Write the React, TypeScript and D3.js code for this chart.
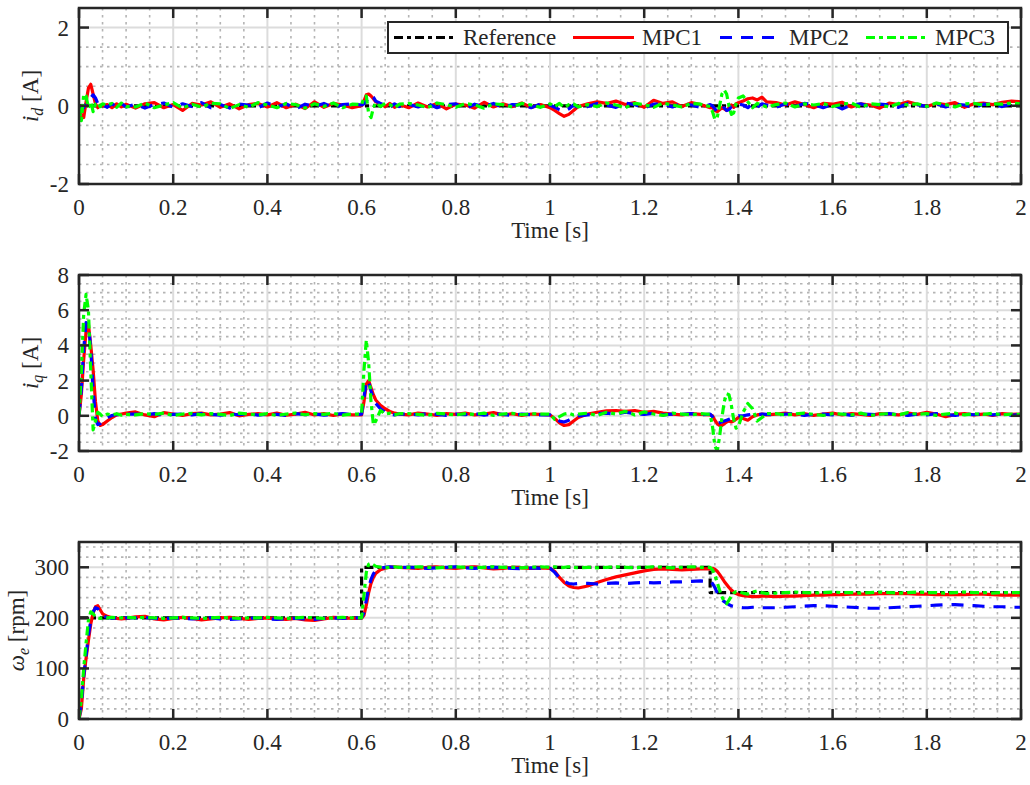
import React, { useEffect, useRef } from "react";
import * as d3 from "d3";

// shared sample times [s]
const TIME = [
  0, 0.005, 0.01, 0.015, 0.02, 0.025, 0.03, 0.035, 0.04, 0.045, 0.05,
  0.06, 0.07, 0.08, 0.09, 0.1,
  0.12, 0.14, 0.16, 0.18, 0.2, 0.22, 0.24, 0.26, 0.28, 0.3, 0.32, 0.34, 0.36, 0.38, 0.4, 0.42, 0.44, 0.46, 0.48, 0.5, 0.52, 0.54, 0.56, 0.58,
  0.6, 0.605, 0.61, 0.615, 0.62, 0.625, 0.63,
  0.64, 0.65, 0.66, 0.67, 0.68,
  0.7, 0.72, 0.74, 0.76, 0.78, 0.8, 0.82, 0.84, 0.86, 0.88, 0.9, 0.92, 0.94, 0.96, 0.98,
  1.0, 1.01, 1.02, 1.03, 1.04, 1.05, 1.06,
  1.08, 1.1, 1.12, 1.14, 1.16, 1.18, 1.2, 1.22, 1.24, 1.26, 1.28, 1.3, 1.32, 1.34,
  1.345, 1.35, 1.355, 1.36, 1.365, 1.37, 1.375, 1.38, 1.385, 1.39, 1.395, 1.4,
  1.41, 1.42, 1.43, 1.44, 1.45, 1.46,
  1.48, 1.5, 1.52, 1.54, 1.56, 1.58, 1.6, 1.62, 1.64, 1.66, 1.68, 1.7, 1.72, 1.74, 1.76, 1.78, 1.8, 1.82, 1.84, 1.86, 1.88, 1.9, 1.92, 1.94, 1.96, 1.98, 2.0,
];

// d-axis current [A]
const ID_REF_T = [0, 2];
const ID_REF = [0, 0];
const ID_MPC1 = [
  0, -0.25, -0.3, 0.1, 0.45, 0.55, 0.3, 0.05, -0.05, 0.02, 0,
  0.03, -0.05, 0.05, -0.03, 0.04,
  -0.06, 0.05, 0.08, -0.05, 0.03, -0.12, 0.06, 0.02, 0.1, -0.04, 0.05, -0.08, 0.03, 0.06, -0.03, 0.08, -0.05, 0.04, -0.07, 0.1, -0.04, 0.06, 0.02, -0.05,
  0, 0.12, 0.28, 0.3, 0.25, 0.18, 0.1,
  0.05, -0.02, 0.06, -0.04, 0.03,
  -0.05, 0.07, -0.03, 0.06, -0.08, 0.04, 0.02, -0.06, 0.09, -0.03, 0.05, -0.02, 0.07, -0.04, 0.03,
  -0.05, -0.12, -0.2, -0.27, -0.22, -0.12, -0.02,
  0.05, 0.1, 0.06, 0.12, 0.03, 0.08, -0.04, 0.14, 0.06, 0.1, -0.02, 0.08, 0.03, -0.05,
  -0.05, -0.12, -0.15, -0.1, -0.05, -0.08, -0.12, -0.05, 0.02, -0.04, 0.05, 0.08,
  0.12, 0.18, 0.2, 0.15, 0.22, 0.1,
  0.08, 0.02, 0.1, 0.03, -0.05, 0.06, 0.04, 0.09, -0.03, 0.05, 0.02, -0.06, 0.07, 0.03, 0.1, 0.04, -0.02, 0.06, 0.03, 0.08, -0.04, 0.05, 0.07, 0.03, 0.09, 0.12, 0.1,
];
const ID_MPC2 = [
  0, -0.1, -0.05, 0.05, 0.1, 0.2, 0.28, 0.2, 0.05, 0.08, 0.02,
  -0.04, 0.05, -0.02, 0.06, -0.03,
  0.04, -0.06, 0.03, 0.07, -0.04, 0.05, -0.02, 0.08, -0.05, 0.03, -0.06, 0.04, 0.02, -0.05, 0.07, -0.03, 0.05, -0.08, 0.04, -0.02, 0.06, -0.04, 0.03, 0.05,
  0.02, 0.05, 0.12, 0.22, 0.28, 0.22, 0.12,
  0.06, 0.02, -0.04, 0.05, -0.02,
  0.04, -0.03, 0.06, -0.05, 0.03, 0.05, -0.07, 0.04, -0.02, 0.06, -0.04, 0.03, 0.02, -0.05, 0.05,
  0.02, -0.04, -0.1, -0.14, -0.08, 0.02, -0.05,
  -0.02, 0.06, 0.02, -0.04, 0.07, 0.03, -0.06, 0.04, 0.05, -0.03, 0.06, 0.02, -0.04, 0.03,
  0, -0.08, -0.15, -0.18, -0.1, -0.05, -0.12, -0.1, -0.02, 0, 0.04, 0.05,
  0.02, -0.05, 0.06, -0.03, 0.05, 0.02,
  -0.04, 0.05, -0.02, 0.06, 0.03, -0.05, 0.04, -0.08, 0.02, 0.05, -0.03, 0.04, 0.02, -0.04, 0.06, 0.03, -0.02, 0.05, -0.03, 0.04, 0.02, -0.05, 0.04, 0.03, -0.02, 0.05, 0.04,
];
const ID_MPC3 = [
  -0.05, -0.38, 0.3, 0.25, -0.05, 0.1, -0.15, 0.05, 0.08, -0.02, 0.05,
  0.02, 0.06, -0.04, 0.07, -0.02,
  -0.03, 0.07, -0.05, 0.02, 0.08, -0.06, 0.04, -0.03, 0.06, 0.05, -0.07, 0.03, -0.04, 0.08, 0.02, -0.05, 0.06, 0.03, -0.06, 0.05, -0.02, 0.07, -0.05, 0.04,
  0.03, 0.2, 0.25, -0.2, -0.3, -0.05, 0.08,
  -0.02, 0.06, 0.03, -0.05, 0.04,
  0.06, 0.02, -0.05, 0.07, 0.03, -0.04, 0.06, 0.02, -0.06, 0.05, 0.03, -0.03, 0.06, 0.02, -0.04,
  0.05, -0.02, 0.06, -0.04, 0.03, 0.05, -0.03,
  0.03, -0.02, 0.07, 0.02, -0.05, 0.06, 0.03, -0.04, 0.07, 0.02, -0.03, 0.06, 0.04, -0.02,
  -0.15, -0.35, -0.3, 0, 0.3, 0.4, 0.3, 0, -0.22, -0.18, 0.05, 0.2,
  0.25, 0.1, -0.05, 0.06, 0.02, -0.03,
  0.03, 0.07, -0.03, 0.05, 0.02, 0.06, -0.02, 0.04, 0.07, -0.04, 0.05, 0.03, -0.03, 0.06, 0.02, 0.05, -0.02, 0.07, 0.03, -0.03, 0.05, 0.06, 0.02, 0.05, 0.04, 0.07, 0.05,
];

// q-axis current [A]
const IQ_MPC1 = [
  0, 1.2, 3.2, 4.8, 5.2, 4.0, 2.6, 0.8, -0.3, -0.55, -0.5,
  -0.3, -0.1, 0.05, 0.1, 0.15,
  0.22, 0.05, -0.05, 0.18, 0.1, 0.02, 0.12, 0.15, 0.05, 0.1, 0.18, 0, 0.08, 0.12, 0.05, 0.15, 0.03, 0.1, 0.2, 0.05, 0.12, 0.02, 0.1, 0.05,
  0.05, 0.8, 1.8, 2.0, 1.6, 1.2, 0.9,
  0.6, 0.4, 0.25, 0.15, 0.1,
  0.05, 0.15, 0.1, 0.02, 0.12, 0.08, 0.15, 0.05, 0.1, 0.18, 0.05, 0.12, 0.02, 0.1, 0.08,
  0.05, -0.15, -0.4, -0.55, -0.5, -0.3, -0.1,
  0.1, 0.2, 0.28, 0.3, 0.25, 0.3, 0.2, 0.25, 0.15, 0.1, 0.05, 0.12, 0.08, 0.05,
  0, -0.25, -0.45, -0.55, -0.55, -0.45, -0.35, -0.3, -0.35, -0.3, -0.2, -0.1,
  -0.15, -0.25, -0.05, 0.05, 0.1, 0.05,
  0.1, 0.15, 0.05, 0.12, 0.02, 0.1, 0.15, 0.05, 0.12, 0.08, 0.02, 0.12, 0.1, 0.05, 0.15, 0.08, 0.2, 0.1, -0.05, 0.08, 0.12, 0.05, 0.1, 0.02, 0.12, 0.08, 0.1,
];
const IQ_MPC2 = [
  0, 1.5, 3.8, 5.3, 5.2, 3.8, 1.5, -0.2, -0.5, -0.45, -0.3,
  -0.1, 0.02, 0.08, 0.05, 0.1,
  0.1, 0.05, 0.12, 0.02, 0.08, 0.1, 0.05, 0.12, 0.08, 0.03, 0.1, 0.06, 0.12, 0.04, 0.1, 0.08, 0.02, 0.12, 0.06, 0.1, 0.04, 0.08, 0.12, 0.06,
  0.1, 1.0, 2.0, 1.9, 1.4, 1.0, 0.7,
  0.4, 0.2, 0.1, 0.05, 0.1,
  0.1, 0.05, 0.12, 0.08, 0.02, 0.1, 0.06, 0.12, 0.04, 0.1, 0.08, 0.02, 0.1, 0.06, 0.05,
  0.05, -0.1, -0.3, -0.35, -0.25, -0.1, 0,
  0.05, 0.12, 0.15, 0.1, 0.2, 0.12, 0.08, 0.15, 0.05, 0.1, 0.08, 0.12, 0.05, 0.1,
  -0.05, -0.3, -0.45, -0.4, -0.35, -0.3, -0.25, -0.2, -0.15, -0.1, -0.05, 0,
  0, 0.05, 0.1, 0.05, 0.1, 0.08,
  0.05, 0.1, 0.12, 0.02, 0.08, 0.1, 0.05, 0.12, 0.02, 0.1, 0.08, 0.05, 0.12, 0.06, 0.02, 0.1, 0.05, 0.12, 0.08, 0.02, 0.1, 0.06, 0.12, 0.05, 0.1, 0.02, 0.08,
];
const IQ_MPC3 = [
  0, 2.5, 5.8, 6.9, 6.0, 2.5, -0.8, -0.3, 0.2, 0.1, -0.05,
  0.1, 0.05, 0.12, 0.03, 0.08,
  0.05, 0.12, 0.08, 0.15, 0.02, 0.1, 0.14, 0.05, 0.12, 0.08, 0.02, 0.15, 0.1, 0.05, 0.12, 0.02, 0.1, 0.15, 0.06, 0.12, 0.08, 0.14, 0.04, 0.1,
  0.1, 2.6, 4.3, 3.0, 0.8, -0.5, -0.3,
  0.3, 0.1, 0.15, 0.05, 0.12,
  0.12, 0.08, 0.02, 0.14, 0.1, 0.05, 0.12, 0.08, 0.15, 0.02, 0.1, 0.14, 0.06, 0.12, 0.1,
  0.1, -0.2, -0.05, 0.1, 0.15, 0.05, 0.1,
  0.15, 0.02, 0.2, 0.1, 0.25, 0.05, 0.22, 0.1, 0.02, 0.15, 0.1, 0.05, 0.12, 0.08,
  -0.6, -1.7, -2.0, -1.2, -0.1, 0.8, 1.25, 1.2, 0.6, -0.2, -0.7, -0.6,
  0.2, 0.7, 0.4, -0.3, -0.1, 0.12,
  0.12, 0.05, 0.1, 0.15, 0.08, 0.02, 0.12, 0.1, 0.05, 0.15, 0.02, 0.1, 0.12, 0.05, 0.18, 0.08, 0.12, 0.02, 0.1, 0.15, 0.05, 0.12, 0.08, 0.14, 0.05, 0.1, 0.08,
];

// electrical speed [rpm]
const SPD_REF_T = [0, 0.6, 0.6, 1.34, 1.34, 2];
const SPD_REF = [200, 200, 300, 300, 250, 250];
const SPD_MPC1 = [
  0, 20, 80, 120, 155, 188, 210, 222, 224, 216, 208,
  203, 200, 199, 198, 199,
  202, 203, 198, 196, 199, 201, 199, 196, 198, 200, 201, 199, 197, 199, 200, 198, 197, 199, 196, 195, 198, 201, 200, 199,
  199, 205, 225, 250, 268, 280, 288,
  295, 298, 300, 301, 300,
  299, 298, 300, 301, 299, 298, 300, 301, 299, 297, 298, 300, 299, 298, 299,
  298, 292, 280, 270, 263, 260, 259,
  263, 270, 276, 281, 285, 289, 293, 296, 297, 296, 295, 296, 297, 297,
  298, 296, 292, 286, 279, 272, 266, 260, 255, 251, 248, 246,
  244, 243, 242, 242, 243, 243,
  242, 243, 243, 244, 245, 245, 246, 246, 247, 247, 247, 248, 248, 248, 248, 247, 247, 246, 246, 246, 246, 247, 247, 246, 245, 245, 245,
];
const SPD_MPC2 = [
  0, 30, 85, 125, 165, 195, 212, 220, 218, 210, 204,
  201, 199, 200, 199, 200,
  200, 201, 199, 198, 200, 199, 198, 199, 200, 198, 197, 198, 199, 200, 198, 197, 198, 199, 198, 197, 199, 200, 199, 200,
  200, 210, 235, 260, 276, 287, 294,
  298, 300, 301, 300, 300,
  300, 299, 298, 299, 300, 301, 299, 298, 299, 300, 299, 298, 297, 299, 298,
  298, 290, 279, 272, 268, 267, 268,
  268, 267, 268, 269, 268, 269, 270, 269, 270, 271, 271, 272, 273, 272,
  268, 260, 250, 242, 236, 232, 229, 226, 224, 223, 222, 221,
  220, 220, 221, 221, 220, 220,
  220, 221, 222, 223, 224, 224, 223, 222, 221, 220, 219, 219, 220, 221, 222, 223, 224, 225, 226, 226, 225, 224, 223, 222, 222, 221, 221,
];
const SPD_MPC3 = [
  0, 40, 100, 150, 195, 212, 208, 202, 200, 199, 200,
  200, 201, 200, 200, 201,
  200, 201, 200, 199, 200, 201, 200, 199, 200, 201, 200, 199, 200, 200, 201, 200, 199, 200, 201, 200, 199, 200, 201, 200,
  200, 245, 290, 306, 308, 305, 302,
  300, 299, 300, 301, 300,
  300, 301, 300, 299, 300, 301, 300, 299, 300, 301, 300, 300, 299, 300, 301,
  300, 301, 299, 300, 301, 300, 299,
  300, 299, 300, 301, 300, 299, 300, 301, 300, 299, 300, 301, 300, 300,
  295, 285, 270, 255, 242, 232, 228, 235, 243, 249, 252, 252,
  249, 247, 251, 253, 250, 248,
  249, 250, 251, 250, 249, 250, 251, 250, 250, 249, 250, 251, 250, 249, 250, 251, 250, 250, 249, 250, 251, 250, 250, 249, 250, 250, 250,
];

const X_TICKS = [0, 0.2, 0.4, 0.6, 0.8, 1, 1.2, 1.4, 1.6, 1.8, 2];
const ID_TICKS = [-2, 0, 2];
const IQ_TICKS = [-2, 0, 2, 4, 6, 8];
const SPD_TICKS = [0, 100, 200, 300];
const LEGEND_NAMES = ["Reference", "MPC1", "MPC2", "MPC3"];

const FONT = '"Liberation Serif", "Times New Roman", "DejaVu Serif", serif';
const AX = "#262626";
const LEFT = 79;
const RIGHT = 1021;

const STYLE = {
  ref: { color: "#000000", dash: "9,4,4,4" },
  mpc1: { color: "#ff0000", dash: null },
  mpc2: { color: "#0000ff", dash: "12,9" },
  mpc3: { color: "#00ff00", dash: "9,4,4,4" },
};

function App() {
  const ref = useRef<SVGSVGElement>(null);

  useEffect(() => {
    const svg = d3.select(ref.current);
    svg.selectAll("*").remove();

    const panels = [
      {
        top: 8, bottom: 184, domain: [-2, 2.5], ticks: ID_TICKS, minor: 0.5,
        label: ["i", "d", " [A]"], labelX: 38,
        series: [
          { t: ID_REF_T, v: ID_REF, s: STYLE.ref },
          { t: TIME, v: ID_MPC1, s: STYLE.mpc1 },
          { t: TIME, v: ID_MPC2, s: STYLE.mpc2 },
          { t: TIME, v: ID_MPC3, s: STYLE.mpc3 },
        ],
      },
      {
        top: 275, bottom: 451, domain: [-2, 8], ticks: IQ_TICKS, minor: 0.5,
        label: ["i", "q", " [A]"], labelX: 38,
        series: [
          { t: TIME, v: IQ_MPC1, s: STYLE.mpc1 },
          { t: TIME, v: IQ_MPC2, s: STYLE.mpc2 },
          { t: TIME, v: IQ_MPC3, s: STYLE.mpc3 },
        ],
      },
      {
        top: 542, bottom: 719, domain: [0, 350], ticks: SPD_TICKS, minor: 20,
        label: ["\u03c9", "e", " [rpm]"], labelX: 24,
        series: [
          { t: SPD_REF_T, v: SPD_REF, s: STYLE.ref },
          { t: TIME, v: SPD_MPC1, s: STYLE.mpc1 },
          { t: TIME, v: SPD_MPC2, s: STYLE.mpc2 },
          { t: TIME, v: SPD_MPC3, s: STYLE.mpc3 },
        ],
      },
    ];

    const x = d3.scaleLinear().domain([0, 2]).range([LEFT, RIGHT]);
    const xMinor = d3.range(0, 2.0001, 0.05).filter(d => Math.abs(d * 5 - Math.round(d * 5)) > 1e-6);

    panels.forEach((p, pi) => {
      const y = d3.scaleLinear().domain(p.domain).range([p.bottom, p.top]);
      const g = svg.append("g");
      const yMinor = d3.range(p.domain[0], p.domain[1] + 1e-9, p.minor)
        .filter(d => !p.ticks.some(t => Math.abs(t - d) < 1e-9));

      g.append("rect")
        .attr("x", LEFT).attr("y", p.top)
        .attr("width", RIGHT - LEFT).attr("height", p.bottom - p.top)
        .attr("fill", "#fff");

      // minor grid
      g.selectAll(null).data(xMinor).enter().append("line")
        .attr("x1", d => x(d)).attr("x2", d => x(d))
        .attr("y1", p.top).attr("y2", p.bottom)
        .attr("stroke", "#b4b4b4").attr("stroke-width", 1.6)
        .attr("stroke-dasharray", "2.5,4.5");
      g.selectAll(null).data(yMinor).enter().append("line")
        .attr("x1", LEFT).attr("x2", RIGHT)
        .attr("y1", d => y(d)).attr("y2", d => y(d))
        .attr("stroke", "#b4b4b4").attr("stroke-width", 1.6)
        .attr("stroke-dasharray", "2.5,4.5");

      // major grid
      g.selectAll(null).data(X_TICKS).enter().append("line")
        .attr("x1", d => x(d)).attr("x2", d => x(d))
        .attr("y1", p.top).attr("y2", p.bottom)
        .attr("stroke", "#dcdcdc").attr("stroke-width", 2);
      g.selectAll(null).data(p.ticks).enter().append("line")
        .attr("x1", LEFT).attr("x2", RIGHT)
        .attr("y1", d => y(d)).attr("y2", d => y(d))
        .attr("stroke", "#dcdcdc").attr("stroke-width", 2);

      // data
      const clipId = "clip" + pi;
      svg.append("clipPath").attr("id", clipId).append("rect")
        .attr("x", LEFT).attr("y", p.top)
        .attr("width", RIGHT - LEFT).attr("height", p.bottom - p.top);
      const lines = g.append("g").attr("clip-path", `url(#${clipId})`);
      p.series.forEach(sr => {
        const line = d3.line<number>()
          .defined((_, i) => i < sr.t.length)
          .x((_, i) => x(sr.t[i]))
          .y(d => y(d));
        lines.append("path")
          .attr("d", line(sr.v))
          .attr("fill", "none")
          .attr("stroke", sr.s.color)
          .attr("stroke-width", 3.2)
          .attr("stroke-linejoin", "round")
          .attr("stroke-dasharray", sr.s.dash);
      });

      // frame and ticks
      g.append("rect")
        .attr("x", LEFT).attr("y", p.top)
        .attr("width", RIGHT - LEFT).attr("height", p.bottom - p.top)
        .attr("fill", "none").attr("stroke", AX).attr("stroke-width", 2.5);
      X_TICKS.forEach(d => {
        g.append("line").attr("x1", x(d)).attr("x2", x(d))
          .attr("y1", p.bottom).attr("y2", p.bottom - 10)
          .attr("stroke", AX).attr("stroke-width", 2.5);
        g.append("line").attr("x1", x(d)).attr("x2", x(d))
          .attr("y1", p.top).attr("y2", p.top + 10)
          .attr("stroke", AX).attr("stroke-width", 2.5);
      });
      p.ticks.forEach(d => {
        g.append("line").attr("x1", LEFT).attr("x2", LEFT + 10)
          .attr("y1", y(d)).attr("y2", y(d))
          .attr("stroke", AX).attr("stroke-width", 2.5);
        g.append("line").attr("x1", RIGHT).attr("x2", RIGHT - 10)
          .attr("y1", y(d)).attr("y2", y(d))
          .attr("stroke", AX).attr("stroke-width", 2.5);
      });

      // tick labels
      g.selectAll(null).data(X_TICKS).enter().append("text")
        .attr("x", d => x(d)).attr("y", p.bottom + 31)
        .attr("text-anchor", "middle")
        .style("font-family", FONT).style("font-size", "23px").attr("fill", AX)
        .text(d => String(d));
      g.selectAll(null).data(p.ticks).enter().append("text")
        .attr("x", LEFT - 10).attr("y", d => y(d) + 8)
        .attr("text-anchor", "end")
        .style("font-family", FONT).style("font-size", "23px").attr("fill", AX)
        .text(d => String(d));

      g.append("text")
        .attr("x", (LEFT + RIGHT) / 2).attr("y", p.bottom + 54)
        .attr("text-anchor", "middle")
        .style("font-family", FONT).style("font-size", "23px").attr("fill", AX)
        .text("Time [s]");

      const cy = (p.top + p.bottom) / 2;
      const yl = g.append("text")
        .attr("transform", `translate(${p.labelX},${cy}) rotate(-90)`)
        .attr("text-anchor", "middle")
        .style("font-family", FONT).style("font-size", "23px").attr("fill", AX);
      yl.append("tspan").style("font-style", "italic").text(p.label[0]);
      yl.append("tspan").style("font-style", "italic").style("font-size", "16px").attr("dy", 5).text(p.label[1]);
      yl.append("tspan").attr("dy", -5).text(p.label[2]);

      if (pi === 0) {
        const lg = g.append("g");
        lg.append("rect")
          .attr("x", 388).attr("y", 22).attr("width", 620).attr("height", 31)
          .attr("fill", "#fff").attr("stroke", AX).attr("stroke-width", 2);
        const styles = [STYLE.ref, STYLE.mpc1, STYLE.mpc2, STYLE.mpc3];
        const lineX = [394, 573, 720, 866];
        styles.forEach((s, i) => {
          lg.append("line")
            .attr("x1", lineX[i]).attr("x2", lineX[i] + 61)
            .attr("y1", 37.5).attr("y2", 37.5)
            .attr("stroke", s.color).attr("stroke-width", 3)
            .attr("stroke-dasharray", s.dash);
          lg.append("text")
            .attr("x", lineX[i] + 69).attr("y", 45)
            .style("font-family", FONT).style("font-size", "23px").attr("fill", AX)
            .text(LEGEND_NAMES[i]);
        });
      }
    });
  }, []);

  return (
    <div>
      <svg
        ref={ref}
        width={1030}
        height={785}
        style={{ position: "absolute", left: 0, top: 0, background: "#fff" }}
      />
    </div>
  );
}

export default App;
